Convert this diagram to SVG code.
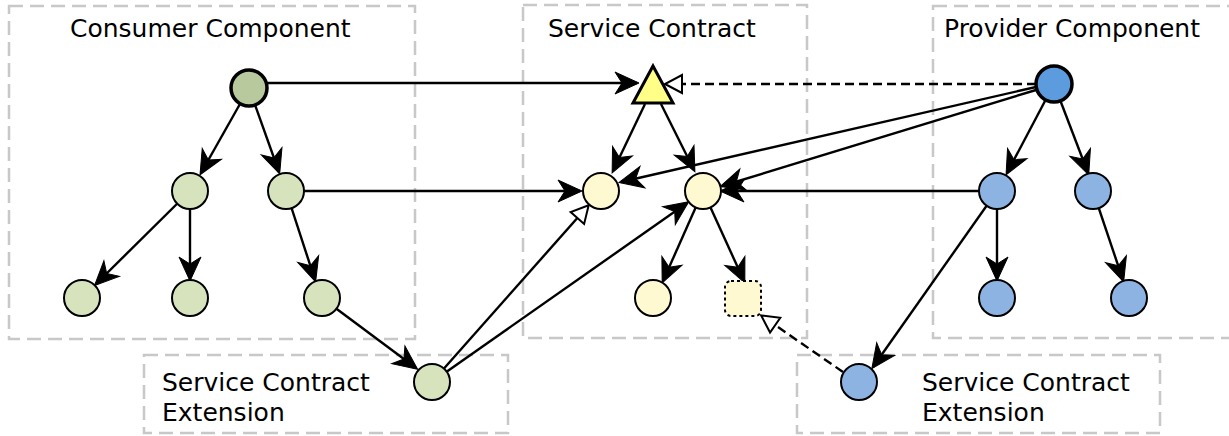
<svg xmlns="http://www.w3.org/2000/svg" width="1229" height="436" viewBox="0 0 1229 436">
<style>
.box{fill:none;stroke:#c8c8c8;stroke-width:2.5;stroke-dasharray:14 7}
.lbl{font-family:"DejaVu Sans",sans-serif;font-size:25px;fill:#000}
.e{fill:none;stroke:#000;stroke-width:2.4}
.ef{marker-end:url(#classic)}
.eh{marker-end:url(#hollow)}
.dash{stroke-dasharray:9 5}
.n{stroke:#000;stroke-width:2}
.root{stroke:#000;stroke-width:3.5}
.cg{fill:#d6e3bd}
.py{fill:#fff9d2}
.pb{fill:#8db3e2}
</style>
<defs>
<marker id="classic" markerUnits="userSpaceOnUse" orient="auto" overflow="visible" refX="-2" refY="0" markerWidth="30" markerHeight="30">
<path d="M0,0 L-24,-11 L-17,0 L-24,11 Z" fill="#000" stroke="#000" stroke-width="1"/>
</marker>
<marker id="hollow" markerUnits="userSpaceOnUse" orient="auto" overflow="visible" refX="-1" refY="0" markerWidth="30" markerHeight="30">
<path d="M0,0 L-17,-9 L-17,9 Z" fill="#fff" stroke="#000" stroke-width="2"/>
</marker>
</defs>
<g id="groups">
<rect class="box" x="9" y="6" width="406" height="333"/>
<rect class="box" x="523" y="5" width="284" height="333"/>
<rect class="box" x="933" y="6" width="300" height="332"/>
<rect class="box" x="144" y="355" width="364" height="78"/>
<rect class="box" x="797" y="355" width="363" height="78"/>
<text class="lbl" x="70" y="37">Consumer Component</text>
<text class="lbl" x="548" y="37">Service Contract</text>
<text class="lbl" x="944" y="37">Provider Component</text>
<text class="lbl" x="162" y="391">Service Contract</text>
<text class="lbl" x="162" y="421">Extension</text>
<text class="lbl" x="922" y="391">Service Contract</text>
<text class="lbl" x="922" y="421">Extension</text>
</g>
<g id="connectors">
<line class="e ef" x1="266" y1="83" x2="637" y2="83"/>
<line class="e eh dash" x1="1036" y1="84" x2="666" y2="84"/>
<line class="e ef" x1="645" y1="104" x2="613" y2="171"/>
<line class="e ef" x1="661" y1="104" x2="694" y2="170"/>
<line class="e ef" x1="286" y1="191" x2="580" y2="191"/>
<line class="e ef" x1="1036" y1="87" x2="621" y2="182"/>
<line class="e ef" x1="1036" y1="90" x2="722" y2="186"/>
<line class="e ef" x1="997" y1="191" x2="722" y2="191"/>
<line class="e eh" x1="432" y1="382" x2="588" y2="206"/>
<line class="e ef" x1="432" y1="382" x2="687" y2="203"/>
<line class="e ef" x1="703" y1="191" x2="663" y2="281"/>
<line class="e ef" x1="703" y1="191" x2="744" y2="281"/>
<line class="e eh dash" x1="843" y1="372" x2="762" y2="316"/>
<line class="e ef" x1="249" y1="88" x2="201" y2="173"/>
<line class="e ef" x1="249" y1="88" x2="279" y2="172"/>
<line class="e ef" x1="190" y1="191" x2="96" y2="284"/>
<line class="e ef" x1="190" y1="191" x2="190" y2="279"/>
<line class="e ef" x1="286" y1="191" x2="315" y2="280"/>
<line class="e ef" x1="322" y1="298" x2="416" y2="368"/>
<line class="e ef" x1="1054" y1="84" x2="1007" y2="173"/>
<line class="e ef" x1="1054" y1="84" x2="1088" y2="173"/>
<line class="e ef" x1="997" y1="191" x2="997" y2="279"/>
<line class="e ef" x1="1093" y1="191" x2="1123" y2="280"/>
<line class="e ef" x1="997" y1="191" x2="873" y2="367"/>
</g>
<g id="consumer-root"><circle class="root" cx="249" cy="88" r="18" fill="#b8c99e"/></g>
<g id="consumer-a"><circle class="n cg" cx="190" cy="191" r="18"/></g>
<g id="consumer-b"><circle class="n cg" cx="286" cy="191" r="18"/></g>
<g id="consumer-a1"><circle class="n cg" cx="82" cy="298" r="18"/></g>
<g id="consumer-a2"><circle class="n cg" cx="190" cy="298" r="18"/></g>
<g id="consumer-b1"><circle class="n cg" cx="322" cy="298" r="18"/></g>
<g id="consumer-ext"><circle class="n cg" cx="432" cy="382" r="18"/></g>
<g id="contract-root"><polygon points="653,66 673,103 633,103" fill="#ffff88" stroke="#000" stroke-width="3"/></g>
<g id="contract-a"><circle class="n py" cx="601" cy="191" r="18"/></g>
<g id="contract-b"><circle class="n py" cx="703" cy="191" r="18"/></g>
<g id="contract-b1"><circle class="n py" cx="653" cy="298" r="18"/></g>
<g id="contract-b2"><rect class="py" x="725" y="281" width="36" height="35" rx="6" stroke="#000" stroke-width="2" stroke-dasharray="3 3"/></g>
<g id="provider-root"><circle class="root" cx="1054" cy="84" r="18" fill="#5b9bde"/></g>
<g id="provider-a"><circle class="n pb" cx="997" cy="191" r="18"/></g>
<g id="provider-b"><circle class="n pb" cx="1093" cy="191" r="18"/></g>
<g id="provider-a1"><circle class="n pb" cx="997" cy="298" r="18"/></g>
<g id="provider-b1"><circle class="n pb" cx="1129" cy="298" r="18"/></g>
<g id="provider-ext"><circle class="n pb" cx="859" cy="382" r="18"/></g>
</svg>
